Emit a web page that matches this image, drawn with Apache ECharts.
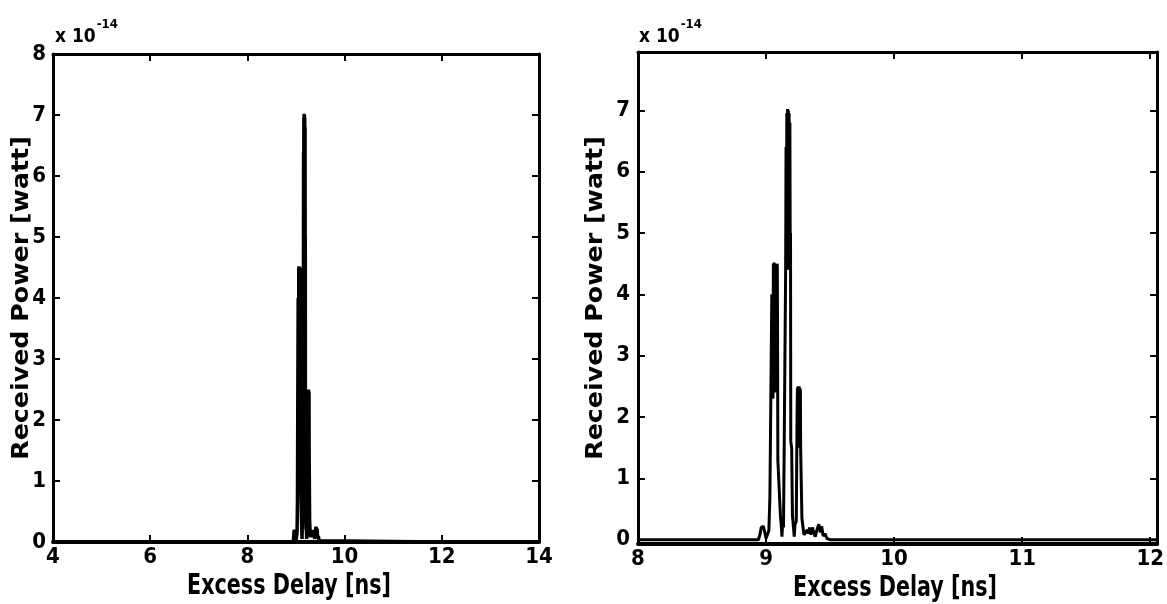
<!DOCTYPE html>
<html>
<head>
<meta charset="utf-8">
<script src="https://cdn.jsdelivr.net/npm/echarts@6/dist/echarts.min.js"></script>
<style>
html,body{margin:0;padding:0;background:#ffffff;}
#chart{width:1167px;height:604px;}
</style>
</head>
<body>
<div id="chart"></div>
<script>
// Excess delay [ns]
const delayNs = [
  8.000, 8.940, 8.952, 8.962, 8.978, 8.990, 9.000, 9.012, 9.022, 9.030,
  9.040, 9.045, 9.052, 9.054, 9.057, 9.060, 9.063, 9.066, 9.069, 9.072,
  9.075, 9.078, 9.081, 9.084, 9.086, 9.088, 9.090, 9.092, 9.106, 9.112,
  9.118, 9.124, 9.130, 9.136, 9.142, 9.150, 9.153, 9.156, 9.159, 9.162,
  9.165, 9.168, 9.171, 9.174, 9.177, 9.180, 9.183, 9.186, 9.189, 9.191,
  9.193, 9.200, 9.206, 9.214, 9.220, 9.226, 9.236, 9.242, 9.245, 9.248,
  9.251, 9.254, 9.257, 9.260, 9.263, 9.266, 9.268, 9.270, 9.276, 9.280,
  9.290, 9.296, 9.310, 9.322, 9.330, 9.340, 9.350, 9.362, 9.372, 9.384,
  9.400, 9.412, 9.424, 9.434, 9.446, 9.460, 9.475, 9.500, 12.054
];
// Received power [x 10^-14 watt]
const powerE14 = [
  0.00, 0.00, 0.08, 0.20, 0.22, 0.12, 0.02, 0.02, 0.15, 0.70,
  0.72, 4.00, 4.02, 2.30, 4.50, 2.40, 4.52, 2.50, 4.50, 2.60,
  4.50, 2.40, 4.48, 2.80, 4.50, 4.45, 3.20, 1.30, 1.32, 0.40,
  0.25, 0.05, 0.28, 0.20, 1.60, 1.62, 4.40, 6.40, 4.50, 6.95,
  4.40, 7.02, 4.50, 7.00, 4.40, 6.95, 4.50, 6.80, 4.40, 5.00,
  1.60, 1.50, 0.40, 0.20, 0.05, 0.25, 0.30, 2.00, 2.48, 1.60,
  2.50, 1.70, 2.50, 1.50, 2.48, 1.80, 2.45, 1.50, 1.48, 0.35,
  0.32, 0.08, 0.05, 0.16, 0.10, 0.20, 0.08, 0.20, 0.12, 0.05,
  0.18, 0.25, 0.12, 0.22, 0.06, 0.10, 0.02, 0.00, 0.00
];
// Tick labels
const leftXTicks  = [4, 6, 8, 10, 12, 14];
const leftYTicks  = [0, 1, 2, 3, 4, 5, 6, 7, 8];
const rightXTicks = [8, 9, 10, 11, 12];
const rightYTicks = [0, 1, 2, 3, 4, 5, 6, 7];
const xTitle = 'Excess Delay [ns]';
const yTitle = 'Received Power [watt]';
const scaleMain = 'x 10';
const scaleExp = '-14';

const points = delayNs.map((d, i) => [d, powerE14[i]]);

const NARROW = "'DejaVu Sans Condensed','Liberation Sans Narrow','DejaVu Sans',sans-serif";
const WIDE = "'DejaVu Sans','Liberation Sans',Arial,sans-serif";

function fmt(list) {
  return function (v) {
    for (const t of list) { if (Math.abs(v - t) < 1e-6) return String(t); }
    return '';
  };
}

const frameLine = { show: true, onZero: false, lineStyle: { color: '#000', width: 3 } };
const bottomLine = { show: true, onZero: false, lineStyle: { color: '#000', width: 4 } };
const tick = { show: true, inside: true, length: 7, lineStyle: { color: '#000', width: 2 } };
const labelFont = { color: '#000', fontFamily: NARROW, fontWeight: 'bold', fontSize: 22 };

function xAxes(grid, min, max, ticks) {
  const common = { type: 'value', gridIndex: grid, min: min, max: max, splitNumber: ticks.length - 1,
    axisTick: tick, splitLine: { show: false } };
  return [
    Object.assign({}, common, { position: 'bottom', axisLine: bottomLine, z: 5,
      axisLabel: Object.assign({ show: true, margin: 4, formatter: fmt(ticks) }, labelFont) }),
    Object.assign({}, common, { position: 'top', axisLine: frameLine, axisLabel: { show: false } })
  ];
}
function yAxes(grid, min, max, ticks, margin) {
  const common = { type: 'value', gridIndex: grid, min: min, max: max, splitNumber: ticks.length - 1,
    axisLine: frameLine, axisTick: tick, splitLine: { show: false } };
  return [
    Object.assign({}, common, { position: 'left',
      axisLabel: Object.assign({ show: true, margin: margin, formatter: fmt(ticks) }, labelFont) }),
    Object.assign({}, common, { position: 'right', axisLabel: { show: false } })
  ];
}

function scaleText(x, y) {
  return {
    type: 'text', left: x, top: y, z: 10,
    style: {
      text: '{m|' + scaleMain + '}{s|' + scaleExp + '}',
      fill: '#000',
      rich: {
        m: { fontFamily: NARROW, fontWeight: 'bold', fontSize: 19, verticalAlign: 'bottom', lineHeight: 29 },
        s: { fontFamily: NARROW, fontWeight: 'bold', fontSize: 13, verticalAlign: 'top', lineHeight: 29, padding: [0, 0, 0, 1] }
      }
    }
  };
}
function titleText(x, y, text, rotated) {
  return {
    type: 'text', x: x, y: y, rotation: rotated ? Math.PI / 2 : 0, z: 10,
    scaleX: rotated ? 1.1 : 1, scaleY: rotated ? 1 : 1.2,
    style: {
      text: text, fill: '#000',
      fontFamily: rotated ? WIDE : NARROW, fontWeight: 'bold', fontSize: 23,
      align: 'center', verticalAlign: 'middle'
    }
  };
}

const chart = echarts.init(document.getElementById('chart'), null, { renderer: 'canvas' });
chart.setOption({
  animation: false,
  backgroundColor: '#ffffff',
  grid: [
    { left: 53, top: 54, width: 486, height: 488 },
    { left: 638, top: 52, width: 523, height: 492 }
  ],
  xAxis: [].concat(xAxes(0, 4, 14, leftXTicks), xAxes(1, 8, 12.054, rightXTicks)),
  yAxis: [].concat(yAxes(0, 0, 8, leftYTicks, 7), yAxes(1, -0.07, 7.95, rightYTicks, 8)),
  series: [
    { type: 'line', xAxisIndex: 0, yAxisIndex: 0, data: points, showSymbol: false, symbol: 'none',
      lineStyle: { color: '#000', width: 3.5 }, z: 3 },
    { type: 'line', xAxisIndex: 2, yAxisIndex: 2, data: points, showSymbol: false, symbol: 'none',
      lineStyle: { color: '#000', width: 3 }, z: 3 }
  ],
  graphic: [
    scaleText(55, 18),
    scaleText(639, 18),
    titleText(22, 298, yTitle, true),
    titleText(596, 298, yTitle, true),
    titleText(289, 587, xTitle, false),
    titleText(895, 589, xTitle, false)
  ]
});
</script>
</body>
</html>
